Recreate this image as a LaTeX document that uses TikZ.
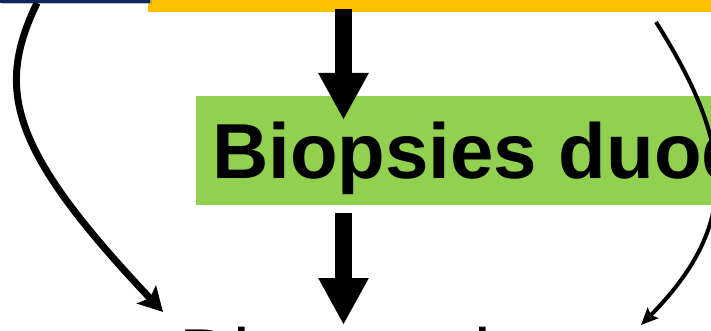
\documentclass[tikz,border=0pt]{standalone}
\usepackage{fontspec}
\setmainfont{Liberation Sans}
\usetikzlibrary{arrows.meta,shadows}
\definecolor{navyfill}{HTML}{0C2660}
\definecolor{orangefill}{HTML}{FFC000}
\definecolor{greenfill}{HTML}{92D050}
\begin{document}
\begin{tikzpicture}[x=1pt,y=-1pt,
    every node/.style={inner sep=0pt,outer sep=0pt},
    topbox/.style={rectangle,minimum height=40pt},
    bigarrow/.style={line width=17pt,-{Triangle[width=47pt,length=47pt]}},
    thickcurve/.style={line width=7pt,-{Stealth[length=24pt,width=26pt,inset=5pt]}},
    thincurve/.style={line width=4pt,-{Stealth[length=17pt,width=15pt,inset=3pt]}}]
    \useasboundingbox (0,0) rectangle (711,331);
    \clip (0,0) rectangle (711,331);
    % boxes
    \node[topbox,fill=orangefill,minimum width=600pt,anchor=south west] (sero) at (148,12) {};
    \node[topbox,fill=navyfill,minimum width=150pt,anchor=south west,
        drop shadow={shadow xshift=1.5pt,shadow yshift=-1.5pt}] (clin) at (0,3) {};
    \node[fill=greenfill,anchor=north west,inner xsep=16pt,minimum height=109pt,
        text height=56pt,text depth=0pt,font=\bfseries\fontsize{78}{80}\selectfont] (biop) at (196,96) {Biopsies duodénales};
    \node[anchor=base west,text height=53pt,font=\fontsize{75}{78}\selectfont] (diag) at (179,381) {Diagnostic};
    % straight arrows
    \draw[bigarrow] ([xshift=195.5pt,yshift=3pt]sero.south west) -- ([xshift=147.5pt,yshift=-24pt]biop.north west);
    \draw[bigarrow] ([xshift=147.5pt,yshift=-8pt]biop.south west) -- ([xshift=164.5pt,yshift=3pt]diag.north west);
    % side curves
    \draw[thickcurve] ([xshift=37pt]clin.south west) .. controls (-5,90) and (10,150) .. ([xshift=-16pt,yshift=16pt]diag.north west);
    \draw[thincurve] ([xshift=508pt,yshift=-10pt]sero.south west) .. controls (730,140) and (745,220) .. ([xshift=462pt,yshift=3pt]diag.north west);
\end{tikzpicture}
\end{document}
